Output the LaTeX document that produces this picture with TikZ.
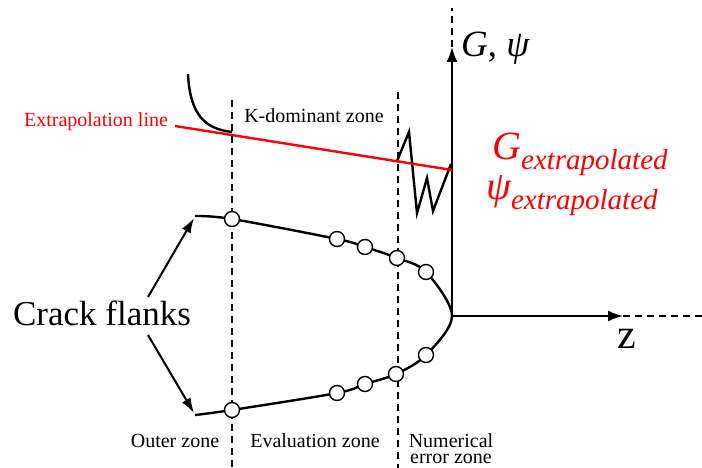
\documentclass[tikz,border=0pt]{standalone}
\usepackage{fontspec}
\setmainfont{LiberationSerif}[Extension=.ttf, UprightFont=*-Regular, ItalicFont=*-Italic, BoldFont=*-Bold, BoldItalicFont=*-BoldItalic]
\usetikzlibrary{arrows.meta}
\tikzset{
  zone/.style={line width=1.8pt, dash pattern=on 7pt off 5pt},
  flank/.style={line width=2.4pt},
  gauss/.style={circle, draw, fill=white, line width=1.4pt, minimum size=15pt, inner sep=0pt},
  arr/.style={line width=2pt, -{Latex[length=15pt,width=10pt]}},
  lbl/.style={inner sep=0pt, font=\fontsize{20}{16}\selectfont},
}

\begin{document}
\begin{tikzpicture}[x=1pt,y=-1pt]
    \useasboundingbox (0,0) rectangle (702,468);
    % zone borders
    \draw[zone] (232,100) -- (232,468);
    \draw[zone] (398,92) -- (398,468);
    % axes
    \coordinate (tip) at (452,316);
    \coordinate (gtop) at (452,47);
    \coordinate (ztop) at (623,316);
    \draw[arr, -{Latex[length=15pt,width=11pt]}] (tip) -- (gtop);
    \draw[arr, -{Latex[length=15pt,width=11pt]}] (tip) -- (ztop);
    \draw[zone, line width=1.6pt] (gtop) -- (452,8);
    \draw[zone, line width=1.6pt] (ztop) -- (702,316);
    \node[anchor=base west, inner sep=0pt, font=\fontsize{37}{40}\selectfont] (gpsi) at (461,57) {\textit{G}, \textit{ψ}};
    \node[anchor=base, inner sep=0pt, font=\fontsize{42}{44}\selectfont] (zlab) at (627,348) {z};
    % crack flanks
    \draw[flank] plot[smooth, tension=0.55] coordinates {(195,216) (232,219) (337,239) (365,247) (397,258) (426,272) (452,316) (426,355) (396,374) (365,384) (337,393) (232,410) (195,415)};
    \foreach \p [count=\i] in {{232,219},{337,239},{365,247},{397,258},{426,272},{426,355},{396,374},{365,384},{337,393},{232,410}}
        \node[gauss] (pt\i) at (\p) {};
    \node[anchor=base, inner sep=0pt, font=\fontsize{35}{38}\selectfont] (crack) at (102,325) {Crack flanks};
    \coordinate (cu) at (148,297);
    \coordinate (cl) at (148,335);
    \coordinate (fu) at (194,218);
    \coordinate (fl) at (194,413);
    \draw[arr] (cu) -- (fu);
    \draw[arr] (cl) -- (fl);
    % G / psi curve
    \draw[flank] (188,74) .. controls (190,116) and (206,129) .. (232,132);
    \draw[flank] (397,161) -- (409,132) -- (417,213) -- (427,178) -- (433,211) -- (451,164);
    % extrapolation
    \coordinate (ea) at (175,126);
    \coordinate (eb) at (452,170);
    \draw[red, line width=2.4pt] (ea) -- (eb);
    \node[lbl, red, anchor=base] (extra) at (96,127) {Extrapolation line};
    \node[anchor=base west, inner sep=0pt, red, font=\fontsize{40}{42}\selectfont\itshape] (gex) at (492,160) {G\raisebox{-10pt}{\fontsize{29}{30}\selectfont extrapolated}};
    \node[anchor=base west, inner sep=0pt, red, font=\fontsize{40}{42}\selectfont\itshape] (pex) at (486,200) {ψ\raisebox{-10pt}{\fontsize{29}{30}\selectfont extrapolated}};
    % zone labels
    \node[lbl, anchor=base] (kdom) at (314,123) {K-dominant zone};
    \node[lbl, anchor=base] (outer) at (175,447) {Outer zone};
    \node[lbl, anchor=base] (eval) at (315,447) {Evaluation zone};
    \node[lbl, anchor=base] (numer) at (451,447) {Numerical};
    \node[lbl, anchor=base] (numer2) at (451,463) {error zone};
\end{tikzpicture}
\end{document}
